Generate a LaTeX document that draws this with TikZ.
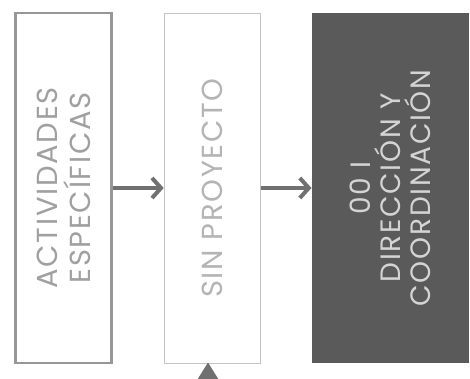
\documentclass[tikz,border=0pt]{standalone}
\usepackage{fontspec}
\setmainfont{Poppins}[LetterSpace=6]
\usetikzlibrary{arrows.meta}
\usetikzlibrary{positioning}
\definecolor{bordegris}{HTML}{979797}
\definecolor{bordeclaro}{HTML}{C4C4C4}
\definecolor{textogris}{HTML}{A0A0A0}
\definecolor{textoclaro}{HTML}{B4B4B4}
\definecolor{fondooscuro}{HTML}{5A5A5A}
\definecolor{textoblanco}{HTML}{D4D4D4}
\definecolor{flecha}{HTML}{707070}

\tikzset{
  caja/.style={minimum width=96pt, minimum height=350pt, inner sep=0pt},
  rotulo/.style={rotate=90, inner sep=0pt, align=center,
    font=\fontsize{29}{33}\selectfont},
  salida/.style={draw=flecha, line width=4pt,
    -{Straight Barb[length=9pt,width=20pt,line width=4pt]}},
  entrada/.style={draw=flecha, line width=3pt,
    -{Triangle[length=20pt,width=24pt]}}
}

\begin{document}
\begin{tikzpicture}[x=1pt, y=-1pt, node distance=51pt]
      \clip (0,0) rectangle (470,378);
      \fill[white] (0,0) rectangle (470,378);

      \node[caja, draw=bordegris, line width=2.4pt] (act) at (63.5,188) {};
      \node[caja, draw=bordeclaro, line width=0.8pt, right=of act] (sin) {};
      \node[caja, fill=fondooscuro, minimum width=157pt, right=of sin] (dir) {};

      \node[rotulo, text=textogris] (act-txt) at (act) {ACTIVIDADES\\ESPECÍFICAS};
      \node[rotulo, text=textoclaro] (sin-txt) at (sin) {SIN PROYECTO};
      \node[rotulo, text=textoblanco, font=\fontsize{28}{30}\selectfont]
        (dir-txt) at (dir) {00 I\\DIRECCIÓN Y\\COORDINACIÓN};

      \coordinate (abajo) at (208,400);

      \draw[salida] (act) -- (sin);
      \draw[salida] (sin) -- (dir);
      \draw[entrada] (abajo) -- ([yshift=1pt]abajo |- sin.south);
    \end{tikzpicture}
\end{document}
